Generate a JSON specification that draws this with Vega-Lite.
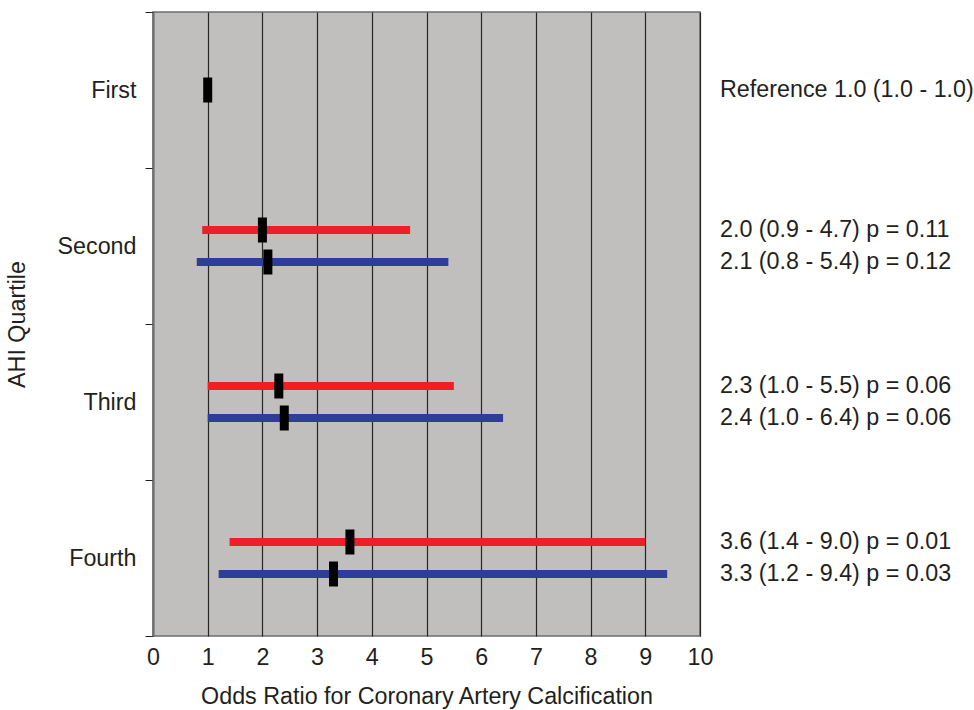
{
  "$schema": "https://vega.github.io/schema/vega-lite/v6.json",
  "width": 547,
  "height": 624,
  "autosize": {"type": "none"},
  "padding": {"left": 153, "top": 12, "right": 274, "bottom": 74},
  "background": "white",
  "config": {
    "font": "Liberation Sans",
    "view": {"fill": "#c0bfbe", "stroke": "#6e6e6e", "strokeWidth": 1.5}
  },
  "data": {
    "values": [
      {"quartile": "First", "model": "Reference", "or": 1.0, "lo": null, "hi": null, "label": "Reference 1.0 (1.0 - 1.0)"},
      {"quartile": "Second", "model": "Model 1", "or": 2.0, "lo": 0.9, "hi": 4.7, "label": "2.0 (0.9 - 4.7) p = 0.11"},
      {"quartile": "Second", "model": "Model 2", "or": 2.1, "lo": 0.8, "hi": 5.4, "label": "2.1 (0.8 - 5.4) p = 0.12"},
      {"quartile": "Third", "model": "Model 1", "or": 2.3, "lo": 1.0, "hi": 5.5, "label": "2.3 (1.0 - 5.5) p = 0.06"},
      {"quartile": "Third", "model": "Model 2", "or": 2.4, "lo": 1.0, "hi": 6.4, "label": "2.4 (1.0 - 6.4) p = 0.06"},
      {"quartile": "Fourth", "model": "Model 1", "or": 3.6, "lo": 1.4, "hi": 9.0, "label": "3.6 (1.4 - 9.0) p = 0.01"},
      {"quartile": "Fourth", "model": "Model 2", "or": 3.3, "lo": 1.2, "hi": 9.4, "label": "3.3 (1.2 - 9.4) p = 0.03"}
    ]
  },
  "encoding": {
    "y": {
      "field": "quartile",
      "type": "nominal",
      "sort": ["First", "Second", "Third", "Fourth"],
      "scale": {"paddingInner": 0, "paddingOuter": 0},
      "axis": {
        "title": "AHI Quartile",
        "titleFont": "Liberation Sans",
        "titleFontSize": 23.3,
        "titleFontWeight": "normal",
        "titleColor": "#231f20",
        "titlePadding": 27,
        "labelFontSize": 23.3,
        "labelColor": "#231f20",
        "labelPadding": 9,
        "tickBand": "extent",
        "tickSize": 8,
        "tickColor": "#231f20",
        "tickWidth": 1,
        "domainColor": "#6e6e6e",
        "domainWidth": 2,
        "grid": false
      }
    },
    "yOffset": {
      "field": "model",
      "type": "nominal",
      "scale": {"domain": ["Model 1", "Reference", "Model 2"], "range": [54, 102], "paddingInner": 0, "paddingOuter": 0}
    }
  },
  "layer": [
    {
      "mark": {"type": "rule", "strokeWidth": 8, "strokeCap": "butt"},
      "encoding": {
        "x": {
          "field": "lo",
          "type": "quantitative",
          "scale": {"domain": [0, 10], "nice": false},
          "axis": {
            "title": "Odds Ratio for Coronary Artery Calcification",
            "titleFontSize": 23.3,
            "titleFontWeight": "normal",
            "titleColor": "#231f20",
            "titlePadding": 17,
            "values": [0, 1, 2, 3, 4, 5, 6, 7, 8, 9, 10],
            "labelFontSize": 23.3,
            "labelColor": "#231f20",
            "labelPadding": 10,
            "labelFlush": false,
            "ticks": false,
            "domain": false,
            "grid": true,
            "gridColor": "#262626",
            "gridWidth": 1.2,
            "gridOpacity": 1
          }
        },
        "x2": {"field": "hi"},
        "color": {
          "field": "model",
          "type": "nominal",
          "scale": {"domain": ["Model 1", "Model 2"], "range": ["#ee1f26", "#2e3d97"]},
          "legend": null
        }
      }
    },
    {
      "mark": {"type": "tick", "color": "black", "size": 25, "thickness": 9, "opacity": 1},
      "encoding": {
        "x": {"field": "or", "type": "quantitative"}
      }
    },
    {
      "mark": {"type": "text", "align": "left", "baseline": "middle", "dx": 20, "fontSize": 23.3, "color": "#231f20", "clip": false},
      "encoding": {
        "x": {"datum": 10, "type": "quantitative"},
        "text": {"field": "label"}
      }
    }
  ]
}
